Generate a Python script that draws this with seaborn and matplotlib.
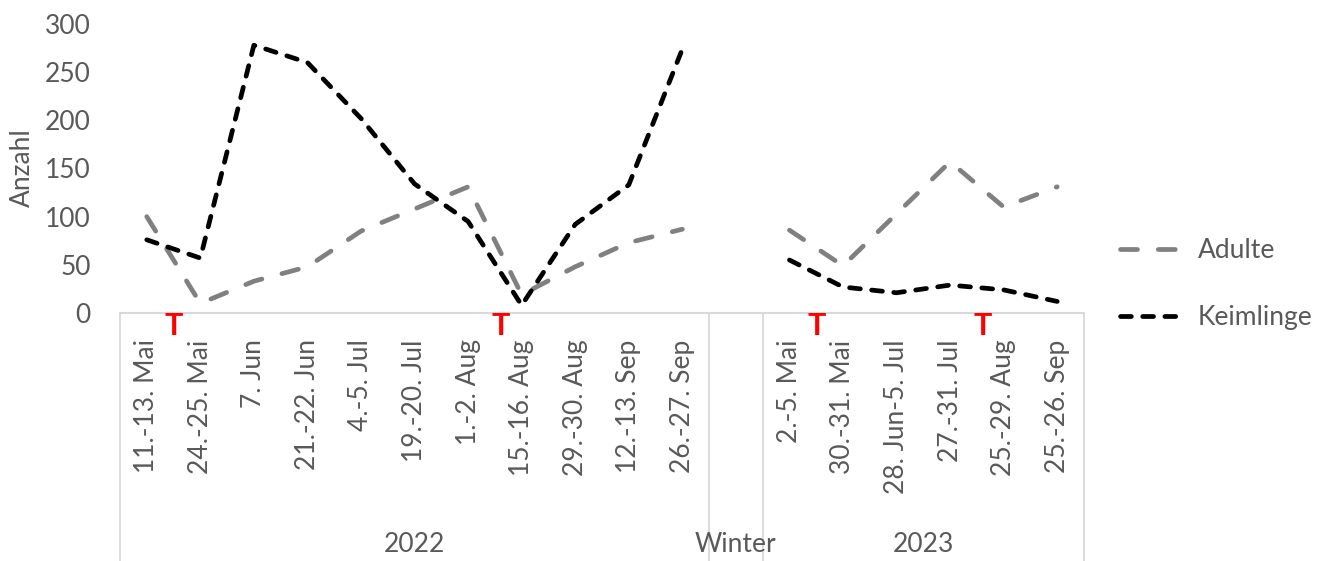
import numpy as np
import pandas as pd
import seaborn as sns
import matplotlib.pyplot as plt
import matplotlib.transforms as mtransforms
from matplotlib.lines import Line2D

# Probenahmetermine
termine_2022 = ["11.-13. Mai", "24.-25. Mai", "7. Jun", "21.-22. Jun", "4.-5. Jul",
                "19.-20. Jul", "1.-2. Aug", "15.-16. Aug", "29.-30. Aug",
                "12.-13. Sep", "26.-27. Sep"]
termine_2023 = ["2.-5. Mai", "30.-31. Mai", "28. Jun-5. Jul", "27.-31. Jul",
                "25.-29. Aug", "25.-26. Sep"]

# Werte (aus dem Bild geschaetzt)
adulte_2022 = [100, 10, 33, 48, 85, 108, 131, 19, 48, 73, 87]
keimlinge_2022 = [76, 57, 278, 260, 202, 134, 95, 8, 92, 133, 274]
adulte_2023 = [86, 49, 103, 157, 110, 131]
keimlinge_2023 = [55, 27, 21, 29, 24, 12]

gruppen = ["2022", "Winter", "2023"]
gruppen_groesse = [len(termine_2022), 1, len(termine_2023)]

# T-Markierungen (zwischen Terminen)
t_pos = [0.5, 6.6, 12.5, 15.6]

TXT = "#595959"
GRID = "#d9d9d9"
FS = 19

sns.set_style("white")
plt.rcParams["font.family"] = ["Lato", "DejaVu Sans"]

# Long-Format DataFrame
kategorien = termine_2022 + [""] + termine_2023
pos_2022 = list(range(len(termine_2022)))
pos_2023 = list(range(len(termine_2022) + 1, len(kategorien)))
rows = []
for jahr, pos, ad, ke in [("2022", pos_2022, adulte_2022, keimlinge_2022),
                          ("2023", pos_2023, adulte_2023, keimlinge_2023)]:
    for p, a, k in zip(pos, ad, ke):
        rows.append({"pos": p, "anzahl": a, "serie": "Adulte", "jahr": jahr})
        rows.append({"pos": p, "anzahl": k, "serie": "Keimlinge", "jahr": jahr})
df = pd.DataFrame(rows)

W, H = 1330, 561
fig = plt.figure(figsize=(W / 100, H / 100), dpi=100)
ax = fig.add_axes([120 / W, 1 - 313 / H, 964 / W, 289 / H])

farben = {"Adulte": "#808080", "Keimlinge": "#000000"}
striche = {"Adulte": (3.6, 4.4), "Keimlinge": (2.3, 2.4)}
LW = 3.4

sns.lineplot(data=df, x="pos", y="anzahl", hue="serie", style="serie",
             units="jahr", estimator=None, palette=farben, dashes=striche,
             linewidth=LW, legend=False, ax=ax, dash_capstyle="round")

ax.set_xlim(-0.5, len(kategorien) - 0.5)
ax.set_ylim(0, 300)
ax.set_yticks(range(0, 301, 50))
ax.set_xticks(range(len(kategorien)))
ax.set_xticklabels(kategorien, rotation=90)
ax.tick_params(axis="x", length=0, pad=19, labelsize=FS, labelcolor=TXT)
ax.tick_params(axis="y", length=0, pad=21, labelsize=FS, labelcolor=TXT)
ax.set_xlabel("")
ax.set_ylabel("")
for s in ["top", "right", "left"]:
    ax.spines[s].set_visible(False)
ax.spines["bottom"].set_color(GRID)
ax.spines["bottom"].set_linewidth(1.5)

fig.text(22 / W, 1 - 168 / H, "Anzahl", rotation=90, ha="center", va="center",
         fontsize=FS, color=TXT)

# mehrstufige Kategorieachse
trans = mtransforms.blended_transform_factory(ax.transData, ax.transAxes)
y_unten = -(H - 313) / 289
grenzen = np.concatenate([[0], np.cumsum(gruppen_groesse)]) - 0.5
for g in grenzen:
    ax.plot([g, g], [0, y_unten], color=GRID, lw=1.3, transform=trans, clip_on=False)
for name, a, b in zip(gruppen, grenzen[:-1], grenzen[1:]):
    ax.text((a + b) / 2, -(545 - 313) / 289, name, transform=trans, ha="center",
            va="center", fontsize=FS, color=TXT)

for t in t_pos:
    ax.text(t, -(335 - 313) / 289, "T", transform=trans, ha="center",
            va="baseline", fontsize=22, fontweight="bold", color="#ff0000")

handles = [Line2D([], [], color=farben[k], lw=LW, dashes=striche[k],
                  dash_capstyle="round") for k in farben]
fig.legend(handles, list(farben), loc="center left",
           bbox_to_anchor=(1096 / W, 1 - 284 / H), frameon=False,
           fontsize=FS, labelcolor=TXT, handlelength=2.45, handletextpad=0.5,
           labelspacing=1.6)

fig.savefig("out.png", dpi=100)
